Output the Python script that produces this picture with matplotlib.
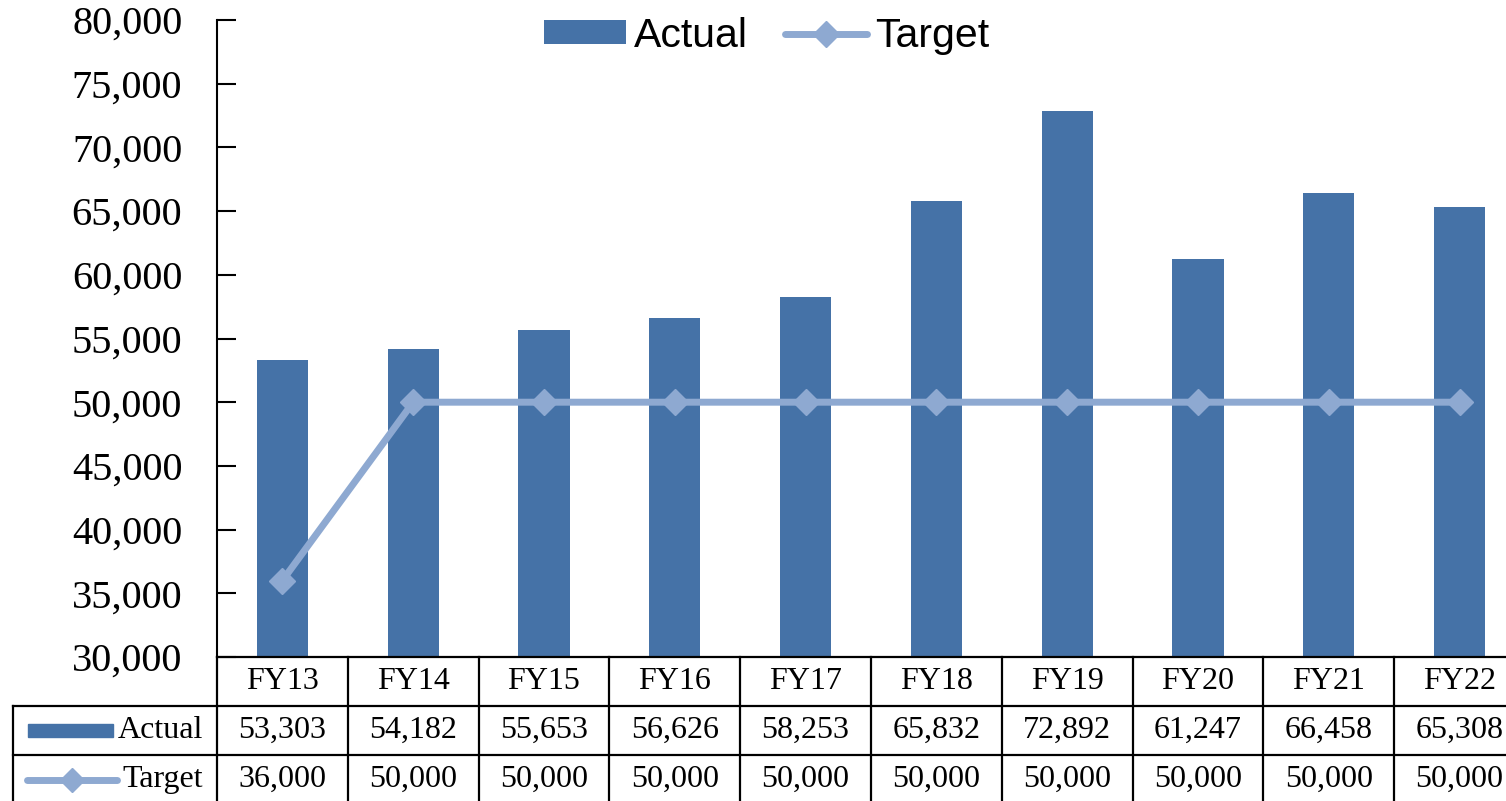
import numpy as np
import matplotlib.pyplot as plt
from matplotlib import transforms
from matplotlib.ticker import FuncFormatter

years = ["FY13", "FY14", "FY15", "FY16", "FY17", "FY18", "FY19", "FY20", "FY21", "FY22"]
actual = [53303, 54182, 55653, 56626, 58253, 65832, 72892, 61247, 66458, 65308]
target = [36000, 50000, 50000, 50000, 50000, 50000, 50000, 50000, 50000, 50000]

bar_color = "#4572A7"
line_color = "#8EA9D1"
serif = "Liberation Serif"

fig = plt.figure(figsize=(15.06, 8.01), dpi=100)
# axes run past the right edge, like the cropped original export
W = 1308
ax = fig.add_axes([217/1506, 144/801, W/1506, 637/801])

x = np.arange(len(years))
bars = ax.bar(x, actual, width=0.39, color=bar_color, zorder=2, label="Actual")
line, = ax.plot(x, target, color=line_color, lw=5, marker="D", ms=13,
                zorder=3, label="Target", solid_capstyle="round")

ax.set_xlim(-0.5, len(years) - 0.5)
ax.set_ylim(30000, 80000)
ax.set_yticks(np.arange(30000, 80001, 5000))
ax.yaxis.set_major_formatter(FuncFormatter(lambda v, p: f"{int(v):,}"))
ax.tick_params(axis="y", direction="in", length=14, width=1.5, pad=25,
               labelsize=29)
for lab in ax.get_yticklabels():
    lab.set_family(serif)
ax.set_xticks([])
for s in ["top", "right", "bottom"]:
    ax.spines[s].set_visible(False)
ax.spines["left"].set_linewidth(1.5)

ax.legend([bars, line], ["Actual", "Target"], loc="upper center",
          bbox_to_anchor=(0.42, 1.063), ncol=2, frameon=False,
          prop={"family": "Liberation Sans", "size": 29.5},
          handlelength=2.0, handleheight=0.52, handletextpad=0.2,
          columnspacing=0.9)

# data table under the plot
tr = transforms.blended_transform_factory(ax.transData, ax.transAxes)
rh = 49 / 637
lab_left = (13 - 217) / W
kw = dict(color="black", lw=1.6, clip_on=False)

ax.plot([-0.5, len(years) - 0.5], [0, 0], transform=tr, **kw)
for k in range(1, 3):
    ax.plot([lab_left, 1.1], [-k * rh, -k * rh], transform=ax.transAxes, **kw)
for i in range(len(years) + 1):
    ax.plot([i - 0.5, i - 0.5], [0, -3.2 * rh], transform=tr, **kw)
ax.plot([lab_left, lab_left], [-rh, -3.2 * rh], transform=ax.transAxes, **kw)

rows = [years, [f"{v:,}" for v in actual], [f"{v:,}" for v in target]]
for r, vals in enumerate(rows):
    yc = -(r + 0.5) * rh
    for i, v in enumerate(vals):
        ax.text(i, yc, v, transform=tr, ha="center", va="center",
                family=serif, fontsize=23, clip_on=False)

# row labels with their legend keys
px = 1 / W
ax.text(-14 * px, -1.5 * rh, "Actual", transform=ax.transAxes, ha="right",
        va="center", family=serif, fontsize=23)
ax.text(-14 * px, -2.5 * rh, "Target", transform=ax.transAxes, ha="right",
        va="center", family=serif, fontsize=23)
ax.add_patch(plt.Rectangle((-189 * px, -1.5 * rh - 0.0105), 85 * px, 0.021,
                           transform=ax.transAxes, color=bar_color,
                           clip_on=False))
ax.plot([-190 * px, -100 * px], [-2.5 * rh, -2.5 * rh], transform=ax.transAxes,
        color=line_color, lw=5, solid_capstyle="round", clip_on=False)
ax.plot([-145 * px], [-2.5 * rh], transform=ax.transAxes, marker="D", ms=12,
        color=line_color, clip_on=False)

fig.savefig("out.png", dpi=100)
